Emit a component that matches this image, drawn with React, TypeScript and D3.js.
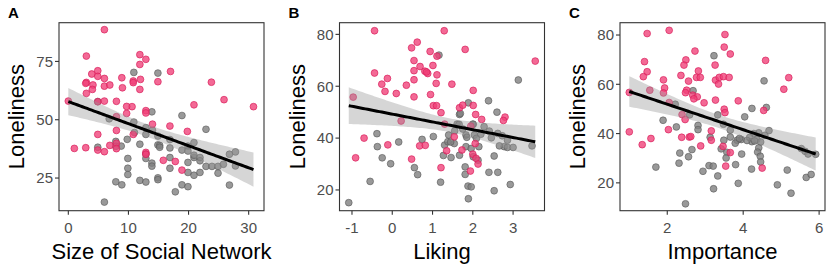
import React from "react";
import * as d3 from "d3";

// ---------- DATA ----------
type P = [number, number];

const networkPink: P[] = [
  [6.0, 88.6], [3.0, 77.3], [11.9, 77.9], [12.9, 75.9], [11.9, 73.7], [17.0, 70.7], [4.9, 71], [3.9, 69.6],
  [4.9, 68.6], [6.0, 67.7], [8.9, 68], [14.9, 66.3], [10.8, 66.6], [12.0, 67.3], [10.8, 65.9], [3.0, 66],
  [2.9, 65.6], [4.1, 64.9], [6.0, 64.4], [6.9, 64.9], [9.0, 63.7], [4.0, 63], [11.9, 63], [3.0, 61.3],
  [23.8, 66.1], [25.9, 58.6], [30.8, 55.6], [20.9, 56.4], [0, 58], [4.9, 57.7], [6.0, 58], [8.0, 57.9],
  [10.6, 55.6], [9.7, 55.7], [12.9, 53.9], [12.9, 52.9], [9.7, 52.7], [8.0, 51.3], [14.0, 48.1], [16.9, 47.3],
  [8.0, 45.4], [10.8, 43.7], [4.9, 43.7], [19.8, 45], [6.9, 39], [8.0, 39.9], [8.0, 37.6], [1.0, 37.7],
  [2.9, 38], [4.9, 37], [6.0, 36.3], [12.9, 36], [15.8, 32.6], [17.8, 32.1], [18.9, 28.4], [12.9, 35.2]
];
const networkGray: P[] = [
  [10.9, 70.3], [14.9, 70], [4.9, 57.8], [13.9, 53.4], [6.8, 50.4], [10.9, 49], [12.9, 46.6], [12.9, 43.7],
  [14.9, 43], [7.9, 40.7], [9.8, 41.6], [4.9, 38.2], [8.8, 38.7], [7.9, 38.6], [11.9, 39.5], [14.9, 39.2],
  [12.9, 33.4], [12.9, 35.3], [13.9, 31.4], [13.9, 30.1], [9.9, 33.4], [9.9, 29.2], [9.9, 26.5], [7.9, 23.4],
  [8.9, 22.1], [11.9, 24], [12.9, 23.3], [6.0, 14.7], [14.9, 25.1], [14.9, 24.3], [18.9, 51.8], [22.9, 45.9],
  [20.9, 40.2], [19.9, 38.7], [16.9, 37.9], [18.9, 37.0], [19.9, 36.6], [15.2, 39], [16.9, 33.8], [16.9, 29.2],
  [19.9, 31.7], [20.9, 33.8], [20.9, 34.8], [21.9, 33.8], [21.9, 32.4], [20.9, 26.2], [19.9, 27.4], [21.9, 27.4],
  [22.9, 30], [23.9, 30], [24.9, 30], [24.9, 27.1], [25.8, 30.9], [26.8, 35.2], [27.8, 36.2], [26.8, 22],
  [27.8, 30.2], [18.9, 22.1], [19.9, 21.3], [17.8, 19.1], [15.2, 38.2], [16.9, 41.5], [14.0, 45.5], [11.0, 44.5]
];

const likingPink: P[] = [
  [-0.44, 81.4], [1.29, 81.4], [1.81, 74.2], [3.55, 69.7], [0.62, 77], [0.48, 74.8], [0.94, 73.4], [1.11, 71.6],
  [0.54, 69.9], [0.69, 67.6], [0.81, 65.8], [0.88, 64.9], [0.54, 66], [1.01, 68], [1.11, 64.4], [-0.44, 65.1],
  [0.85, 65.5], [0.54, 62.5], [-0.12, 63], [-0.26, 60.8], [0.35, 60.4], [1.09, 61.1], [1.48, 60.8], [-0.18, 58],
  [2.01, 58.4], [0.10, 57.2], [0.95, 56.8], [0.54, 55.9], [1.02, 52.5], [1.10, 52.5], [1.67, 51.7], [1.75, 52.7],
  [2.01, 52.6], [-0.97, 55.8], [1.21, 49.8], [2.07, 49.1], [2.22, 47.2], [2.80, 48.1], [2.76, 46.8], [0.22, 46.6],
  [1.30, 45.4], [1.95, 44.6], [1.54, 40.5], [-0.70, 40], [-0.11, 37.4], [0.68, 37], [0.82, 37.2], [-0.91, 32.4],
  [0.48, 31.9], [1.73, 35.4], [2.06, 37.9], [2.0, 33.8], [2.08, 32.2], [2.13, 30], [1.21, 28.6], [1.94, 27.3],
  [1.35, 35.1]
];
const likingGray: P[] = [
  [1.16, 72], [3.13, 62.4], [1.89, 53.6], [2.39, 54.4], [2.60, 50], [1.67, 49.1], [1.61, 45.4], [2.01, 45.3],
  [2.28, 44.4], [2.41, 42.7], [2.62, 41.8], [2.73, 40.9], [2.86, 39.2], [2.78, 36.7], [2.86, 36.4], [3.0, 36.4],
  [3.47, 37], [2.46, 40.1], [2.66, 37], [1.40, 41.2], [1.83, 41.2], [2.04, 41.2], [2.09, 39.9], [2.15, 36.7],
  [1.02, 40.6], [1.30, 37.3], [1.38, 38.6], [1.54, 37.9], [1.67, 33.4], [1.83, 36.7], [1.96, 36], [2.01, 32.8],
  [2.13, 31.5], [1.46, 32.5], [1.27, 33.3], [1.81, 28.9], [1.81, 26], [2.40, 26.8], [2.62, 26.8], [2.53, 33.1],
  [1.88, 21.5], [1.96, 21.2], [1.89, 16.6], [2.53, 19.7], [2.93, 22.1], [1.20, 23], [-0.38, 41.7], [-0.37, 36.7],
  [0.16, 38.5], [0.74, 39.5], [-0.25, 32.4], [-0.04, 30.1], [0.55, 28.6], [0.63, 25.9], [-0.55, 23.3], [-1.08, 15.1],
  [1.69, 49.5], [1.66, 45.3], [2.0, 45.4], [1.75, 43.5], [1.55, 42.8], [1.85, 40.3], [2.2, 41.5], [1.45, 38.5]
];

const importancePink: P[] = [
  [1.47, 80.6], [2.05, 81.9], [3.52, 80.2], [3.50, 75.1], [3.66, 72.3], [2.73, 73.5], [4.59, 69.7], [1.40, 69.2],
  [2.49, 69.9], [2.44, 67.8], [1.47, 65.1], [1.37, 63.1], [2.82, 65.4], [3.26, 67.8], [2.77, 62.8], [2.87, 62.8],
  [2.36, 63.6], [2.56, 61.3], [3.27, 61.7], [3.35, 60.1], [3.37, 62.8], [3.48, 63.1], [3.63, 62.8], [1.90, 61.8],
  [5.20, 62.7], [5.07, 58], [1.54, 57.6], [1.93, 58.5], [1.0, 56.7], [2.51, 57.6], [2.48, 56.6], [2.67, 55.6],
  [2.79, 54.9], [2.70, 54.1], [2.97, 52.5], [2.05, 52.6], [3.87, 53.3], [3.27, 53.6], [3.50, 49.9], [3.52, 48.5],
  [4.54, 49.4], [2.39, 47.7], [2.47, 45.7], [1.0, 40.7], [2.03, 41.6], [1.57, 38], [1.34, 35.5], [2.38, 38.5],
  [2.58, 38.6], [2.62, 38.8], [3.16, 41.1], [3.16, 37.3], [2.88, 35], [3.47, 34.8], [3.66, 32.3], [3.54, 26.8],
  [4.50, 26], [1.90, 56.5]
];
const importanceGray: P[] = [
  [3.23, 71.6], [4.55, 61.4], [4.61, 50.6], [4.23, 50.2], [4.04, 46.8], [4.68, 41.2], [4.57, 39.3], [4.41, 40.3],
  [4.28, 40], [4.17, 38.4], [4.36, 37.6], [4.46, 36.6], [4.41, 34.2], [4.38, 32.5], [4.45, 30.8], [4.46, 28.5],
  [3.95, 37.6], [3.84, 37.3], [3.79, 36.1], [3.66, 38.6], [3.66, 41.4], [3.48, 43.8], [3.33, 47.6], [3.49, 37.3],
  [3.42, 33.8], [3.57, 32.4], [3.55, 30.1], [3.80, 27.4], [3.87, 19.8], [3.33, 22.8], [3.22, 17.6], [3.10, 27],
  [2.94, 24.7], [2.81, 43.3], [2.81, 41.6], [2.68, 57.4], [2.59, 47.6], [2.21, 51.9], [2.24, 42.7], [1.89, 45.4],
  [2.65, 33.5], [2.33, 32.1], [2.31, 28], [2.56, 30.6], [2.48, 11.5], [1.70, 26.4], [5.63, 32.8], [5.71, 31.7],
  [5.53, 33.9], [5.16, 25.2], [5.66, 22.2], [5.79, 23.4], [5.26, 15.8], [4.90, 19.2], [4.22, 25.6], [3.21, 26.8],
  [4.23, 36.7], [3.96, 31.7], [3.13, 38.5], [5.91, 31.6], [4.1, 37.2], [3.9, 38.0], [4.3, 37.0]
];

const panelLetters = ["A", "B", "C"];
const xTitles = ["Size of Social Network", "Liking", "Importance"];
const yTitle = "Loneliness";
const xTicksA = [0, 10, 20, 30];
const xTicksB = [-1, 0, 1, 2, 3];
const xTicksC = [2, 4, 6];
const yTicksA = [25, 50, 75];
const yTicksB = [20, 40, 60, 80];
const yTicksC = [20, 40, 60, 80];
const xDomainA: [number, number] = [-1.55, 32.55];
const xDomainB: [number, number] = [-1.31, 3.78];
const xDomainC: [number, number] = [0.755, 6.155];
const yDomainA: [number, number] = [11.0, 91.6];
const yDomainB: [number, number] = [12.0, 84.5];
const yDomainC: [number, number] = [8.7, 85.0];

// ---------- LAYOUT ----------
const W = 829;
const H = 267;
const FONT = "'Liberation Sans', Arial, Helvetica, sans-serif";
const PINK = "#ef3f77";
const PINK_STROKE = "#d91e5b";
const GRAY = "#7f7f7f";
const GRAY_STROKE = "#5c5c5c";

interface PanelSpec {
  left: number;
  letter: string;
  xTitle: string;
  pink: P[];
  gray: P[];
  xTicks: number[];
  yTicks: number[];
  xDomain: [number, number];
  yDomain: [number, number];
}

const panels: PanelSpec[] = [
  { left: 59, letter: panelLetters[0], xTitle: xTitles[0], pink: networkPink, gray: networkGray, xTicks: xTicksA, yTicks: yTicksA, xDomain: xDomainA, yDomain: yDomainA },
  { left: 339.5, letter: panelLetters[1], xTitle: xTitles[1], pink: likingPink, gray: likingGray, xTicks: xTicksB, yTicks: yTicksB, xDomain: xDomainB, yDomain: yDomainB },
  { left: 620, letter: panelLetters[2], xTitle: xTitles[2], pink: importancePink, gray: importanceGray, xTicks: xTicksC, yTicks: yTicksC, xDomain: xDomainC, yDomain: yDomainC },
];

const PW = 205;
const TOP = 22.7;
const PH = 188;

function fitLm(pts: P[]) {
  const n = pts.length;
  const mx = d3.mean(pts, (p) => p[0]) as number;
  const my = d3.mean(pts, (p) => p[1]) as number;
  let sxx = 0, sxy = 0;
  pts.forEach(([x, y]) => { sxx += (x - mx) ** 2; sxy += (x - mx) * (y - my); });
  const b = sxy / sxx;
  const a = my - b * mx;
  let sse = 0;
  pts.forEach(([x, y]) => { sse += (y - a - b * x) ** 2; });
  const s = Math.sqrt(sse / (n - 2));
  const t = 1.98;
  const [x0, x1] = d3.extent(pts, (p) => p[0]) as [number, number];
  const grid = d3.range(80).map((i) => x0 + ((x1 - x0) * i) / 79);
  return grid.map((x) => {
    const yh = a + b * x;
    const se = s * Math.sqrt(1 / n + (x - mx) ** 2 / sxx);
    return { x, y: yh, lo: yh - t * se, hi: yh + t * se };
  });
}

function Panel({ spec }: { spec: PanelSpec }) {
  const x = d3.scaleLinear().domain(spec.xDomain).range([spec.left, spec.left + PW]);
  const y = d3.scaleLinear().domain(spec.yDomain).range([TOP + PH, TOP]);
  const all = [...spec.pink, ...spec.gray];
  const fit = fitLm(all);
  const area = d3.area<{ x: number; lo: number; hi: number }>()
    .x((d) => x(d.x)).y0((d) => y(d.lo)).y1((d) => y(d.hi));
  const line = d3.line<{ x: number; y: number }>().x((d) => x(d.x)).y((d) => y(d.y));
  const bottom = TOP + PH;
  return (
    <g>
      <text x={spec.left - 51} y={18} fontFamily={FONT} fontWeight="bold" fontSize={15} fill="#000">{spec.letter}</text>
      {spec.gray.map((p, i) => (
        <circle key={"g" + i} cx={x(p[0])} cy={y(p[1])} r={3.4} fill={GRAY} fillOpacity={0.8} stroke={GRAY_STROKE} strokeOpacity={0.8} strokeWidth={0.8} />
      ))}
      {spec.pink.map((p, i) => (
        <circle key={"p" + i} cx={x(p[0])} cy={y(p[1])} r={3.4} fill={PINK} fillOpacity={0.78} stroke={PINK_STROKE} strokeOpacity={0.85} strokeWidth={0.8} />
      ))}
      <path d={area(fit) || ""} fill="#999999" fillOpacity={0.4} />
      <path d={line(fit) || ""} fill="none" stroke="#000" strokeWidth={3} />
      <rect x={spec.left} y={TOP} width={PW} height={PH} fill="none" stroke="#333" strokeWidth={1.1} />
      {spec.xTicks.map((t) => (
        <g key={"xt" + t}>
          <line x1={x(t)} x2={x(t)} y1={bottom} y2={bottom + 4} stroke="#333" strokeWidth={1.1} />
          <text x={x(t)} y={bottom + 22} textAnchor="middle" fontFamily={FONT} fontSize={15} fill="#4d4d4d">{t < 0 ? "-" + Math.abs(t) : t}</text>
        </g>
      ))}
      {spec.yTicks.map((t) => (
        <g key={"yt" + t}>
          <line x1={spec.left - 4} x2={spec.left} y1={y(t)} y2={y(t)} stroke="#333" strokeWidth={1.1} />
          <text x={spec.left - 6} y={y(t)} dy="0.36em" textAnchor="end" fontFamily={FONT} fontSize={15} fill="#4d4d4d">{t}</text>
        </g>
      ))}
      <text x={spec.left + PW / 2} y={259} textAnchor="middle" fontFamily={FONT} fontSize={22} fill="#000">{spec.xTitle}</text>
      <text transform={`translate(${spec.left - 35},${TOP + PH / 2}) rotate(-90)`} textAnchor="middle" fontFamily={FONT} fontSize={22} fill="#000">{yTitle}</text>
    </g>
  );
}

export default function App() {
  return (
    <svg width={W} height={H} style={{ position: "absolute", left: 0, top: 0, background: "#fff" }}>
      <rect x={0} y={0} width={W} height={H} fill="#fff" />
      {panels.map((p) => <Panel key={p.letter} spec={p} />)}
    </svg>
  );
}
